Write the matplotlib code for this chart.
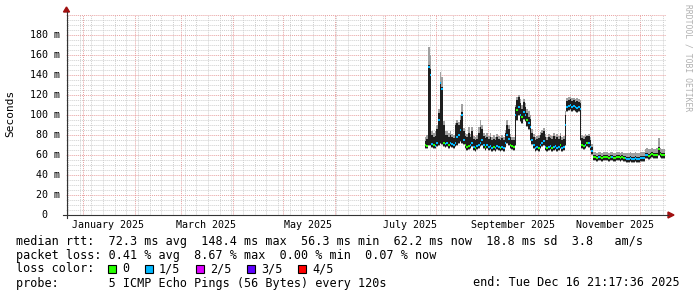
import numpy as np
import pandas as pd
import matplotlib
matplotlib.use("Agg")
from matplotlib import pyplot as plt
import matplotlib.dates as mdates
from matplotlib.patches import Rectangle, Polygon
from matplotlib.lines import Line2D
from matplotlib.transforms import blended_transform_factory

# daily consolidated ping values in ms, from 2025-07-25 on
med = [70,69,148,140,71,70,69,72,95,132,
       126,72,71,72,70,72,71,70,72,78,
       80,85,100,75,70,68,69,70,72,68,
       67,69,70,72,75,70,68,70,68,69,
       67,68,67,69,68,67,68,67,72,80,
       76,70,69,68,100,105,108,100,98,103,
       100,95,92,88,75,70,67,68,67,70,
       72,74,68,67,68,69,67,68,69,67,
       68,70,67,68,90,108,109,110,108,109,
       108,107,108,106,70,69,70,72,72,68,
       64,58,58,57,58,58,57,58,58,58,
       57,58,58,57,57,58,58,57,58,57,
       57,56,56,57,56,56,57,56,56,57,
       57,57,60,60,59,60,61,60,60,60,
       66,61,60,60]
dark = [74,76,150,146,80,78,79,86,102,132,
        128,90,80,80,78,80,78,77,90,92,
        90,95,103,84,79,78,82,78,84,76,
        75,76,82,88,86,79,77,78,76,78,
        75,76,75,78,76,75,77,75,82,90,
        86,78,75,75,108,115,118,112,106,113,
        108,102,98,96,82,78,75,76,77,80,
        82,84,78,75,78,77,76,79,76,78,
        76,79,75,76,100,114,115,116,114,115,
        113,114,113,112,77,76,78,79,79,75,
        68,60,60,59,60,60,59,60,60,60,
        59,60,60,59,59,60,60,59,60,59,
        59,58,58,59,58,58,59,58,58,59,
        59,59,62,62,61,62,63,62,62,62,
        68,63,62,62]
hi = [78,80,168,160,84,82,84,90,106,143,
      138,94,84,84,82,84,81,80,92,95,
      93,100,111,87,82,81,88,81,88,79,
      78,80,88,95,90,82,80,82,79,82,
      78,80,78,81,79,78,80,78,85,95,
      90,81,78,78,110,118,120,116,110,116,
      112,106,104,100,86,81,78,79,80,83,
      85,87,81,78,81,80,79,82,79,81,
      79,82,78,79,104,117,118,118,117,117,
      116,117,116,115,80,79,81,80,81,78,
      71,63,63,62,63,63,62,63,63,63,
      62,63,63,62,62,63,63,62,63,62,
      62,62,62,63,62,62,63,62,62,63,
      63,63,66,67,66,66,67,66,66,67,
      77,67,66,66]
lo = [67,67,70,70,68,67,67,69,70,72,
      71,69,68,69,67,69,68,67,69,70,
      72,74,72,71,67,65,66,67,69,65,
      64,66,67,69,70,67,65,67,65,66,
      64,65,64,66,65,64,65,64,68,72,
      70,67,66,65,70,95,100,94,92,96,
      94,89,86,75,71,67,64,65,64,67,
      69,70,65,64,65,66,64,65,66,64,
      65,67,64,65,70,104,105,106,104,105,
      104,103,104,75,67,66,67,69,68,65,
      61,55,55,54,55,55,54,55,55,55,
      54,55,55,54,54,55,55,54,55,54,
      54,53,53,54,53,53,54,53,53,54,
      54,54,57,57,56,57,58,57,57,57,
      60,58,57,57]
# lost pings out of 5 per day
loss = [0,0,1,1,1,0,1,1,1,1,
        1,0,1,1,0,1,1,1,1,1,
        1,1,1,1,0,0,0,1,1,1,
        0,1,1,1,1,1,0,1,1,1,
        1,0,1,1,1,0,1,1,1,1,
        1,0,0,0,1,0,1,1,0,1,
        1,0,1,1,1,1,1,1,0,1,
        1,1,1,0,1,1,0,1,1,1,
        1,0,1,1,1,1,1,1,1,1,
        1,1,1,1,0,0,1,0,1,1,
        1,0,0,0,1,0,0,0,0,0,
        0,0,1,0,0,0,0,0,0,0,
        1,1,1,1,1,1,1,1,1,1,
        1,1,1,1,0,0,0,0,0,0,
        0,0,0,0]

loss_colors = ['#26ff00', '#00b8ff', '#dd00ff', '#5e00ff', '#ff0000']
loss_labels = ['0', '1/5', '2/5', '3/5', '4/5']
month_labels = ['January 2025', 'March 2025', 'May 2025', 'July 2025',
                'September 2025', 'November 2025']
label_months = ['2025-01-16', '2025-03-16', '2025-05-16', '2025-07-16',
                '2025-09-16', '2025-11-16']

end = pd.Timestamp('2025-12-16 21:17:36')
start = end - pd.Timedelta(days=360)
days = pd.date_range('2025-07-25', periods=len(med), freq='D')

med = np.array(med, float)
dark = np.array(dark, float)
hi = np.array(hi, float)
lo = np.array(lo, float)
x = mdates.date2num(days)

W, H = 697, 297
fig = plt.figure(figsize=(W/100, H/100), dpi=100)
fig.patch.set_facecolor('white')
ax = fig.add_axes([66/W, 82/H, 600/W, 200/H])
ax.set_xlim(mdates.date2num(start), mdates.date2num(end))
ax.set_ylim(0, 200)
for s in ax.spines.values():
    s.set_visible(False)

# grid
ax.xaxis.set_major_locator(mdates.MonthLocator())
ax.xaxis.set_minor_locator(mdates.WeekdayLocator(byweekday=mdates.MO))
ax.yaxis.set_major_locator(matplotlib.ticker.MultipleLocator(20))
ax.yaxis.set_minor_locator(matplotlib.ticker.MultipleLocator(5))
ax.grid(which='minor', color='#cfcfcf', lw=0.7, ls=(0, (1, 1)))
ax.grid(which='major', color='#e8a0a0', lw=0.7, ls=(0, (1, 1)))
ax.tick_params(which='both', length=0, labelbottom=False, labelleft=False)
ax.set_axisbelow(True)

# smoke
ax.bar(x, hi - lo + 1, bottom=lo - 1, width=1.0, align='edge', color='#a0a0a0', lw=0)
ax.bar(x, dark - lo, bottom=lo, width=1.0, align='edge', color='#1e1e1e', lw=0)
cols = [loss_colors[i] for i in loss]
ax.bar(x, 1.8, bottom=med - 0.9, width=1.0, align='edge', color=cols, lw=0)

mono = 'DejaVu Sans Mono'
# y labels
ty = blended_transform_factory(ax.transAxes, ax.transData)
for v in range(0, 200, 20):
    if v == 0:
        ax.text((47 - 66)/600, v, '0', transform=ty, ha='right', va='center',
                family=mono, fontsize=7.2)
    else:
        ax.text((60 - 66)/600, v, '%d m' % v, transform=ty, ha='right', va='center',
                family=mono, fontsize=7.2)
# x labels
tx = blended_transform_factory(ax.transData, ax.transAxes)
for d, lab in zip(label_months, month_labels):
    ax.text(mdates.date2num(pd.Timestamp(d)), -10/200, lab, transform=tx,
            ha='center', va='center', family=mono, fontsize=7.2)

def fx(px):
    return px / W

def fy(py):
    return 1 - py / H

# axes lines and arrows
fig.add_artist(Line2D([fx(63), fx(668)], [fy(215), fy(215)], color='#333333', lw=0.8))
fig.add_artist(Line2D([fx(66.5), fx(66.5)], [fy(218), fy(12)], color='#333333', lw=0.8))
fig.add_artist(Polygon([[fx(668), fy(212)], [fx(674), fy(215)], [fx(668), fy(218)]],
                       closed=True, color='#a01010', transform=fig.transFigure))
fig.add_artist(Polygon([[fx(63.5), fy(12)], [fx(66.5), fy(7)], [fx(69.5), fy(12)]],
                       closed=True, color='#a01010', transform=fig.transFigure))

fig.text(fx(10), fy(113), 'Seconds', rotation=90, ha='center', va='center',
         family=mono, fontsize=8)
fig.text(fx(688), fy(4), 'RRDTOOL / TOBI OETIKER', rotation=270, ha='center', va='top',
         family=mono, fontsize=5.8, color='#b0b0b0')

# legend text
fs = 8.5
fig.text(fx(16), fy(241),
         'median rtt:  72.3 ms avg  148.4 ms max  56.3 ms min  62.2 ms now  18.8 ms sd  3.8   am/s',
         family=mono, fontsize=fs, va='center')
fig.text(fx(16), fy(255),
         'packet loss: 0.41 % avg  8.67 % max  0.00 % min  0.07 % now',
         family=mono, fontsize=fs, va='center')
fig.text(fx(16), fy(269), 'loss color:', family=mono, fontsize=fs, va='center')
box_x = [108, 145, 196, 247, 298]
for bx, c, lab in zip(box_x, loss_colors, loss_labels):
    fig.add_artist(Rectangle((fx(bx), fy(273)), 8/W, 8/H, facecolor=c, edgecolor='black',
                             lw=0.8, transform=fig.transFigure))
    fig.text(fx(bx + 14), fy(269), lab, family=mono, fontsize=fs, va='center')
fig.text(fx(16), fy(283), 'probe:       5 ICMP Echo Pings (56 Bytes) every 120s',
         family=mono, fontsize=fs, va='center')
fig.text(fx(680), fy(283), 'end: Tue Dec 16 21:17:36 2025', family=mono, fontsize=fs,
         va='center', ha='right')

fig.savefig('out.png', dpi=100)
